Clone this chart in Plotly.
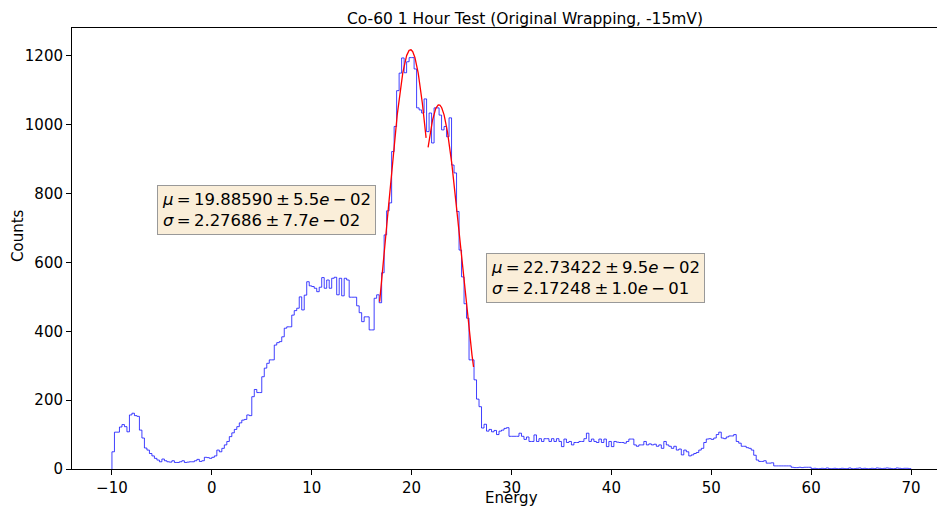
import numpy as np
import plotly.graph_objects as go

# Histogram: 320 bins of width 0.25 from -10 to 70 (Energy)
x_min, x_max, n_bins = -10.0, 70.0, 320
counts = [
    # -10 .. -5
    50, 107, 107, 122, 129, 123, 108, 157, 162, 155, 153, 113, 90, 61, 55, 45, 38, 31, 26, 21,
    # -5 .. 0
    29, 24, 21, 20, 24, 19, 19, 21, 24, 19, 20, 21, 21, 24, 28, 22, 24, 34, 33, 31,
    # 0 .. 5
    34, 38, 55, 50, 60, 70, 80, 94, 105, 115, 123, 134, 142, 144, 157, 155, 210, 231, 222, 222,
    # 5 .. 10
    268, 293, 307, 317, 317, 360, 367, 370, 384, 409, 413, 413, 447, 460, 467, 500, 462, 505, 544, 532,
    # 10 .. 15
    530, 525, 515, 528, 556, 525, 549, 525, 554, 557, 506, 554, 503, 554, 549, 499, 499, 499, 474, 454,
    # 15 .. 20
    428, 442, 442, 404, 404, 496, 506, 483, 570, 680, 750, 773, 922, 995, 1099, 1150, 1194, 1151, 1183, 1195,
    # 20 .. 25
    1195, 1162, 1049, 1043, 1034, 1075, 980, 1034, 947, 1049, 1049, 1028, 985, 995, 965, 1020, 883, 860, 748, 636,
    # 25 .. 30
    558, 480, 438, 317, 317, 259, 203, 181, 119, 130, 110, 115, 108, 112, 100, 110, 113, 118, 120, 95,
    # 30 .. 35
    95, 95, 95, 104, 95, 86, 93, 80, 80, 99, 80, 88, 80, 88, 88, 80, 88, 80, 88, 80,
    # 35 .. 40
    65, 87, 77, 80, 70, 77, 77, 80, 80, 88, 104, 80, 87, 80, 77, 87, 77, 87, 65, 80,
    # 40 .. 45
    65, 80, 78, 77, 77, 75, 80, 87, 87, 70, 66, 70, 70, 80, 70, 73, 70, 72, 66, 70,
    # 45 .. 50
    60, 80, 70, 66, 60, 66, 55, 58, 41, 55, 50, 38, 41, 45, 48, 55, 60, 77, 87, 88,
    # 50 .. 55
    86, 90, 100, 107, 90, 88, 93, 96, 96, 100, 80, 75, 66, 66, 62, 60, 55, 40, 26, 22,
    # 55 .. 60
    22, 24, 17, 17, 18, 9, 9, 9, 9, 9, 9, 9, 5, 4, 4, 5, 4, 5, 5, 5,
    # 60 .. 65
    1, 2, 1, 1, 2, 1, 3, 1, 1, 2, 1, 1, 2, 1, 1, 3, 1, 1, 2, 3,
    # 65 .. 70
    1, 2, 1, 1, 2, 1, 3, 2, 1, 2, 3, 2, 1, 1, 3, 2, 1, 2, 2, 1,
]

# Gaussian fits: (amplitude, mu, sigma, fit range)
fit1_amp, fit1_mu, fit1_sigma, fit1_range = 1218.0, 19.88590, 2.27686, (16.8, 21.45)
fit2_amp, fit2_mu, fit2_sigma, fit2_range = 1058.0, 22.73422, 2.17248, (21.65, 26.2)
th = "\u2009"
fit1_label = (f"<i>μ</i>{th}={th}19.88590{th}±{th}5.5<i>e</i>{th}−{th}02<br>"
              f"<i>σ</i>{th}={th}2.27686{th}±{th}7.7<i>e</i>{th}−{th}02")
fit2_label = (f"<i>μ</i>{th}={th}22.73422{th}±{th}9.5<i>e</i>{th}−{th}02<br>"
              f"<i>σ</i>{th}={th}2.17248{th}±{th}1.0<i>e</i>{th}−{th}01")

x_ticks = [-10, 0, 10, 20, 30, 40, 50, 60, 70]
y_ticks = [0, 200, 400, 600, 800, 1000, 1200]

edges = np.linspace(x_min, x_max, n_bins + 1)
c = np.array(counts, dtype=float)
step_x = np.concatenate([[edges[0]], edges, [edges[-1]]])
step_y = np.concatenate([[0.0], c, [c[-1]], [0.0]])

def gauss(x, a, mu, s):
    return a * np.exp(-(x - mu) ** 2 / (2 * s ** 2))

fig = go.Figure()
fig.add_trace(go.Scatter(x=step_x, y=step_y, mode="lines", line_shape="hv",
                         line=dict(color="rgba(0,0,255,0.75)", width=1), showlegend=False))
for a, mu, s, rng in [(fit1_amp, fit1_mu, fit1_sigma, fit1_range),
                      (fit2_amp, fit2_mu, fit2_sigma, fit2_range)]:
    xx = np.linspace(rng[0], rng[1], 200)
    fig.add_trace(go.Scatter(x=xx, y=gauss(xx, a, mu, s), mode="lines",
                             line=dict(color="red", width=1.3), showlegend=False))

font = dict(family="DejaVu Sans", size=15, color="black")
box = dict(bgcolor="#faeed9", bordercolor="#999999", borderwidth=1, borderpad=4,
           font=dict(family="DejaVu Sans", size=16.5, color="black"), align="left",
           showarrow=False, xanchor="left", yanchor="top")
fig.add_annotation(x=-5.5, y=825, text=fit1_label, **box)
fig.add_annotation(x=27.45, y=628, text=fit2_label, **box)

# axis titles placed like the reference
fig.add_annotation(x=(18 - 72) / 865, y=(469 - 236) / 441, xref="paper", yref="paper", text="Counts",
                   textangle=-90, showarrow=False, xanchor="center", yanchor="middle", font=font)
fig.add_annotation(x=(511 - 72) / 865, y=-(497.5 - 469) / 441, xref="paper", yref="paper",
                   text="Energy", showarrow=False, xanchor="center", yanchor="middle",
                   borderpad=0, font=font)

axis_common = dict(showline=True, linecolor="black", linewidth=1,
                   ticks="outside", ticklen=5, tickcolor="black", showgrid=False,
                   zeroline=False, tickfont=font)
fig.update_xaxes(range=[-14.0, 72.6], tickvals=x_ticks, mirror=True, **axis_common)
fig.update_yaxes(range=[0, 1281], tickvals=y_ticks, mirror=False, **axis_common)
fig.update_layout(
    width=938, height=508, margin=dict(l=72, r=1, t=28, b=39),
    plot_bgcolor="white", paper_bgcolor="white",
    title=dict(text="Co-60 1 Hour Test (Original Wrapping, -15mV)", x=(525 - 72) / 865,
               xref="paper", xanchor="center",
               y=1 - 19 / 508, yanchor="middle",
               font=dict(family="DejaVu Sans", size=15.5, color="black")),
)
fig.write_html("out.html")
